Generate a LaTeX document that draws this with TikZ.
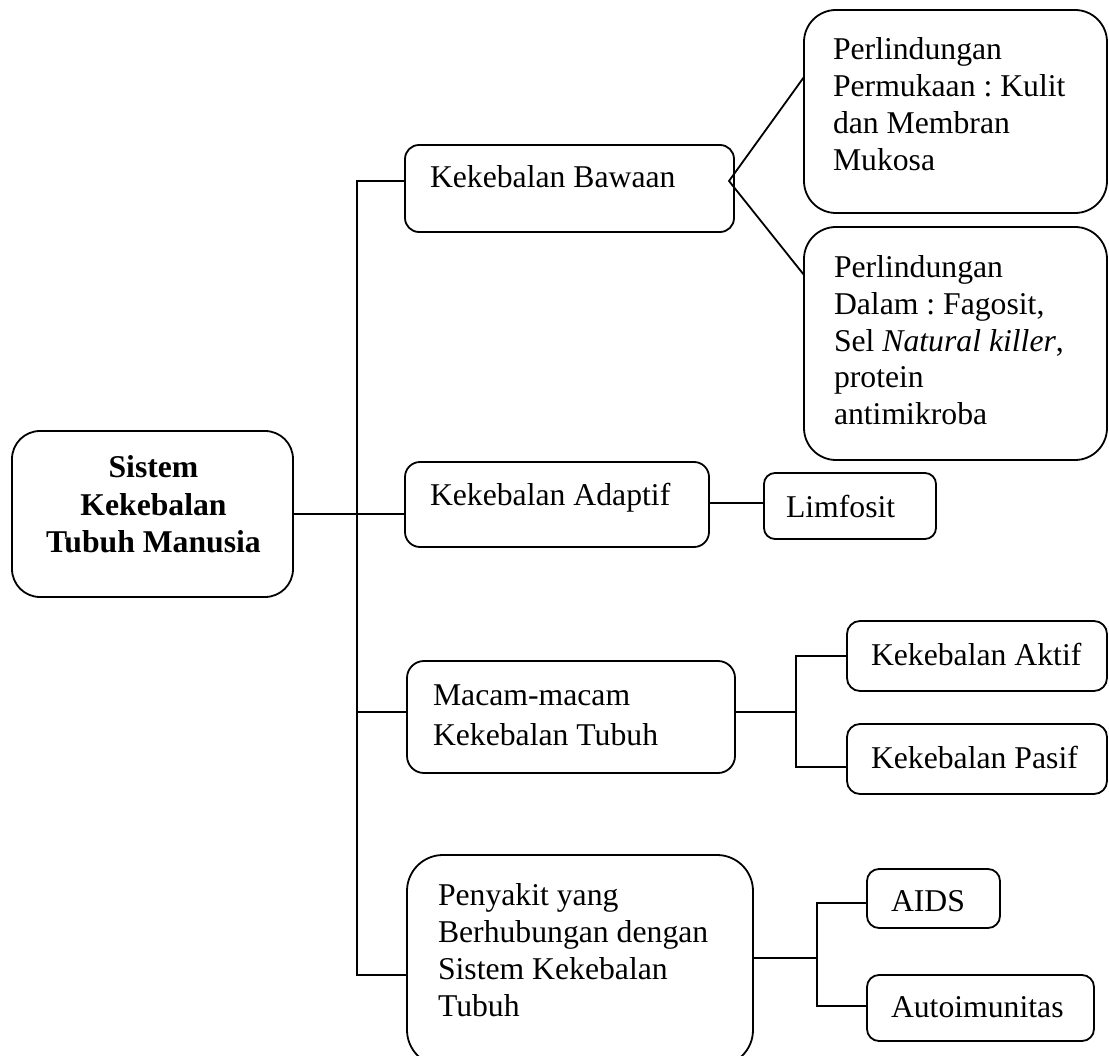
\documentclass[tikz,border=0pt]{standalone}
\usepackage{fontspec}
\setmainfont{Liberation Serif}
\frenchspacing
\tikzset{
  box/.style={draw, line width=1.8pt, anchor=north west, inner sep=0pt, outer sep=0pt},
  txt/.style={anchor=base west, inner sep=0pt, outer sep=0pt, font=\fontsize{31.7}{37}\selectfont},
  link/.style={line width=1.8pt},
}
\begin{document}
\begin{tikzpicture}[x=1pt,y=-1pt]
\useasboundingbox (0,0) rectangle (1109,1056);
\clip (0,0) rectangle (1109,1056);
% boxes
\node[box, rounded corners=28pt, minimum width=281pt, minimum height=166pt] (main) at (12,431) {};
\node[box, rounded corners=14pt, minimum width=329pt, minimum height=87pt] (bawaan) at (405,145) {};
\node[box, rounded corners=15pt, minimum width=304pt, minimum height=85pt] (adaptif) at (405,462) {};
\node[box, rounded corners=11pt, minimum width=172pt, minimum height=66pt] (limfosit) at (764,473) {};
\node[box, rounded corners=32pt, minimum width=303pt, minimum height=203pt] (perm) at (804,10) {};
\node[box, rounded corners=32pt, minimum width=303pt, minimum height=233pt] (dalam) at (804,227) {};
\node[box, rounded corners=17pt, minimum width=328pt, minimum height=112pt] (macam) at (407,661) {};
\node[box, rounded corners=13pt, minimum width=260pt, minimum height=70pt] (aktif) at (847,621) {};
\node[box, rounded corners=13pt, minimum width=260pt, minimum height=70pt] (pasif) at (847,724) {};
\node[box, rounded corners=36pt, minimum width=346pt, minimum height=211pt] (penyakit) at (407,855) {};
\node[box, rounded corners=12pt, minimum width=133pt, minimum height=59pt] (aids) at (867,869) {};
\node[box, rounded corners=12pt, minimum width=227pt, minimum height=66pt] (auto) at (867,975) {};
% texts
\node[txt] (t-main) at (153,478) {\bfseries\baselineskip=37.5pt\vtop{\hbox to 0pt{\hss Sistem\hss}\hbox to 0pt{\hss Kekebalan\hss}\hbox to 0pt{\hss Tubuh Manusia\hss}}};
\node[txt] (t-bawaan) at (430,188) {Kekebalan Bawaan};
\node[txt] (t-adaptif) at (430,505) {Kekebalan Adaptif};
\node[txt] (t-limfosit) at (786,517) {Limfosit};
\node[txt] (t-perm) at (833,60) {\vtop{\hbox{Perlindungan}\hbox{Permukaan : Kulit}\hbox{dan Membran}\hbox{Mukosa}}};
\node[txt] (t-dalam) at (834,278) {\baselineskip=36.6pt\vtop{\hbox{Perlindungan}\hbox{Dalam : Fagosit,}\hbox{Sel \textit{Natural killer},}\hbox{protein}\hbox{antimikroba}}};
\node[txt] (t-macam) at (433,705) {\baselineskip=40pt\vtop{\hbox{Macam-macam}\hbox{Kekebalan Tubuh}}};
\node[txt] (t-penyakit) at (438,905) {\vtop{\hbox{Penyakit yang}\hbox{Berhubungan dengan}\hbox{Sistem Kekebalan}\hbox{Tubuh}}};
\node[txt] (t-aktif) at (871,665) {Kekebalan Aktif};
\node[txt] (t-pasif) at (871,768) {Kekebalan Pasif};
\node[txt] (t-aids) at (891,911) {AIDS};
\node[txt] (t-auto) at (891,1017) {Autoimunitas};
% junction coordinates
\coordinate (tt) at (357,181);
\coordinate (tm) at (357,712);
\coordinate (tb) at (357,975);
\coordinate (la) at (700,503);
\coordinate (bj) at (729,181);
\coordinate (pj1) at (804,77);
\coordinate (pj2) at (804,275);
\coordinate (fm) at (796,712);
\coordinate (fa) at (796,656);
\coordinate (fp) at (796,767);
\coordinate (fq) at (817,958);
\coordinate (fq1) at (817,903);
\coordinate (fq2) at (817,1006);
% connectors
\draw[link] (main.east) -- (main.east -| adaptif.west);
\draw[link] (bawaan.west |- tt) -- (tt) -- (tb) -- (penyakit.west |- tb);
\draw[link] (tm) -- (macam.west |- tm);
\draw[link] (adaptif.east |- la) -- (limfosit.west |- la);
\draw[link] (perm.west |- pj1) -- (bj) -- (dalam.west |- pj2);
\draw[link] (macam.east |- fm) -- (fm);
\draw[link] (aktif.west |- fa) -- (fa) -- (fp) -- (pasif.west |- fp);
\draw[link] (penyakit.east |- fq) -- (fq);
\draw[link] (aids.west |- fq1) -- (fq1) -- (fq2) -- (auto.west |- fq2);
\end{tikzpicture}
\end{document}
